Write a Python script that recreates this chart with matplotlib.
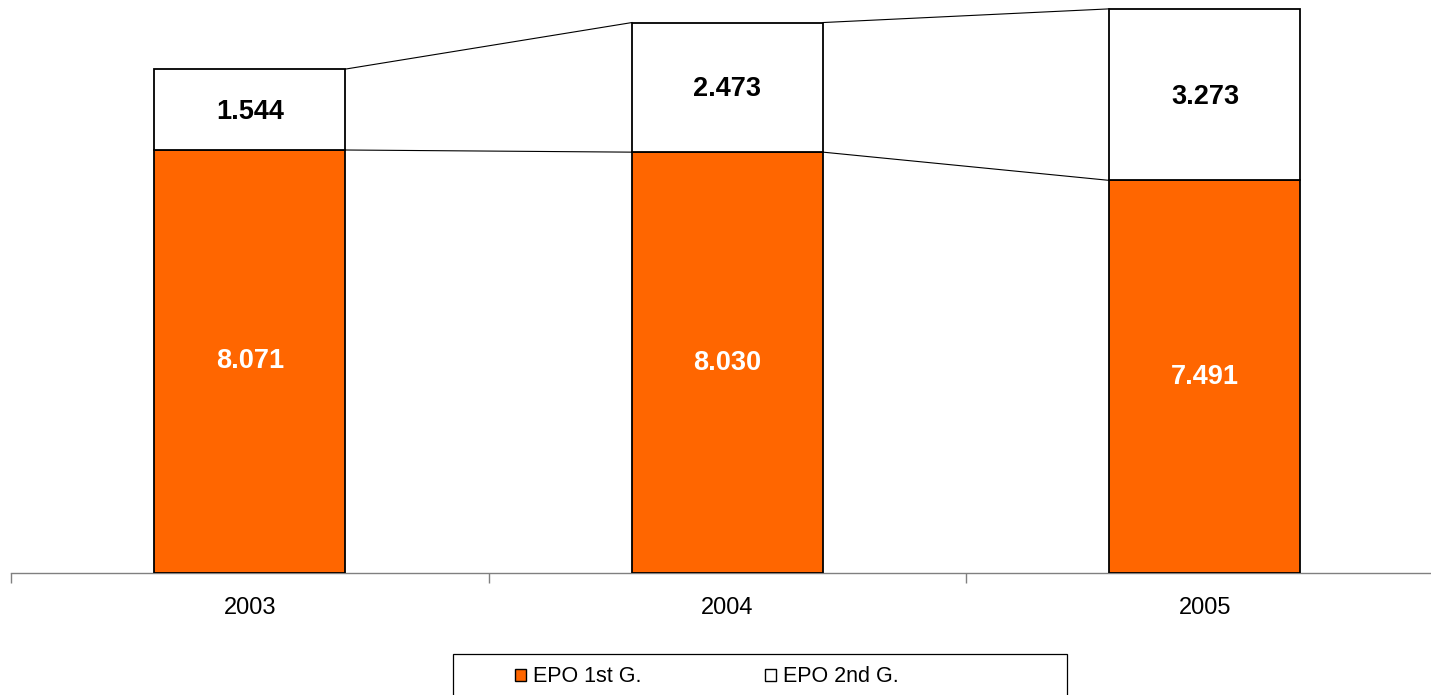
import matplotlib
matplotlib.use("Agg")
import matplotlib.pyplot as plt
from matplotlib.patches import Rectangle
import numpy as np

plt.rcParams['font.family'] = ['Liberation Sans', 'DejaVu Sans']

years = ["2003", "2004", "2005"]
epo_1st = [8.071, 8.030, 7.491]
epo_2nd = [1.544, 2.473, 3.273]
labels_1st = ["8.071", "8.030", "7.491"]
labels_2nd = ["1.544", "2.473", "3.273"]
series_names = ["EPO 1st G.", "EPO 2nd G."]

ORANGE = "#FF6600"
W, H, DPI = 1431, 695, 100

fig = plt.figure(figsize=(W / DPI, H / DPI), dpi=DPI)
ymax = 10.9
px_per_unit = 52.41
ax_left, ax_right = 11.25, 1443.75
ax_bottom_px = 573
ax = fig.add_axes([ax_left / W, (H - ax_bottom_px) / H,
                   (ax_right - ax_left) / W, ymax * px_per_unit / H])

x = np.arange(len(years))
bw = 0.4
first = np.array(epo_1st)
second = np.array(epo_2nd)
total = first + second

ax.bar(x, first, width=bw, color=ORANGE, edgecolor="black", linewidth=1.3, zorder=3)
ax.bar(x, second, bottom=first, width=bw, color="white", edgecolor="black",
       linewidth=1.3, zorder=3)

# series lines joining neighbouring bars
for i in range(len(x) - 1):
    for level in (first, total):
        ax.plot([x[i] + bw / 2, x[i + 1] - bw / 2], [level[i], level[i + 1]],
                color="black", linewidth=0.8, zorder=2)

for i in range(len(x)):
    ax.text(x[i], first[i] / 2, labels_1st[i], ha="center", va="center",
            color="white", fontsize=19.5, fontweight="bold", zorder=4)
    ax.text(x[i], first[i] + second[i] / 2 - 0.04, labels_2nd[i], ha="center",
            va="center", color="black", fontsize=19.5, fontweight="bold", zorder=4)

ax.set_xlim(-0.5, len(x) - 0.5)
ax.set_ylim(0, ymax)
for s in ("top", "right", "left"):
    ax.spines[s].set_visible(False)
ax.spines["bottom"].set_color("#808080")
ax.spines["bottom"].set_linewidth(1.0)
ax.set_yticks([])
ax.set_xticks(x)
ax.set_xticklabels(years, fontsize=17)
ax.tick_params(axis="x", which="major", length=0, pad=17.5)
ax.set_xticks(np.arange(-0.5, len(x)), minor=True)
ax.tick_params(axis="x", which="minor", length=7, width=1.0, color="#808080",
               direction="out")

# legend box
lx0, ly0, lx1, ly1 = 453, 654, 1067, 715
fig.add_artist(Rectangle((lx0 / W, 1 - ly1 / H), (lx1 - lx0) / W, (ly1 - ly0) / H,
                         transform=fig.transFigure, facecolor="white",
                         edgecolor="black", linewidth=0.9))
yc = 675
for mx, colr, name in ((515, ORANGE, series_names[0]), (765, "white", series_names[1])):
    fig.add_artist(Rectangle((mx / W, 1 - (yc + 6) / H), 11 / W, 12 / H,
                             transform=fig.transFigure, facecolor=colr,
                             edgecolor="black", linewidth=1.0))
    fig.text((mx + 18) / W, 1 - (yc + 1) / H, name, ha="left", va="center",
             fontsize=15.5)

fig.savefig("out.png", dpi=DPI)
